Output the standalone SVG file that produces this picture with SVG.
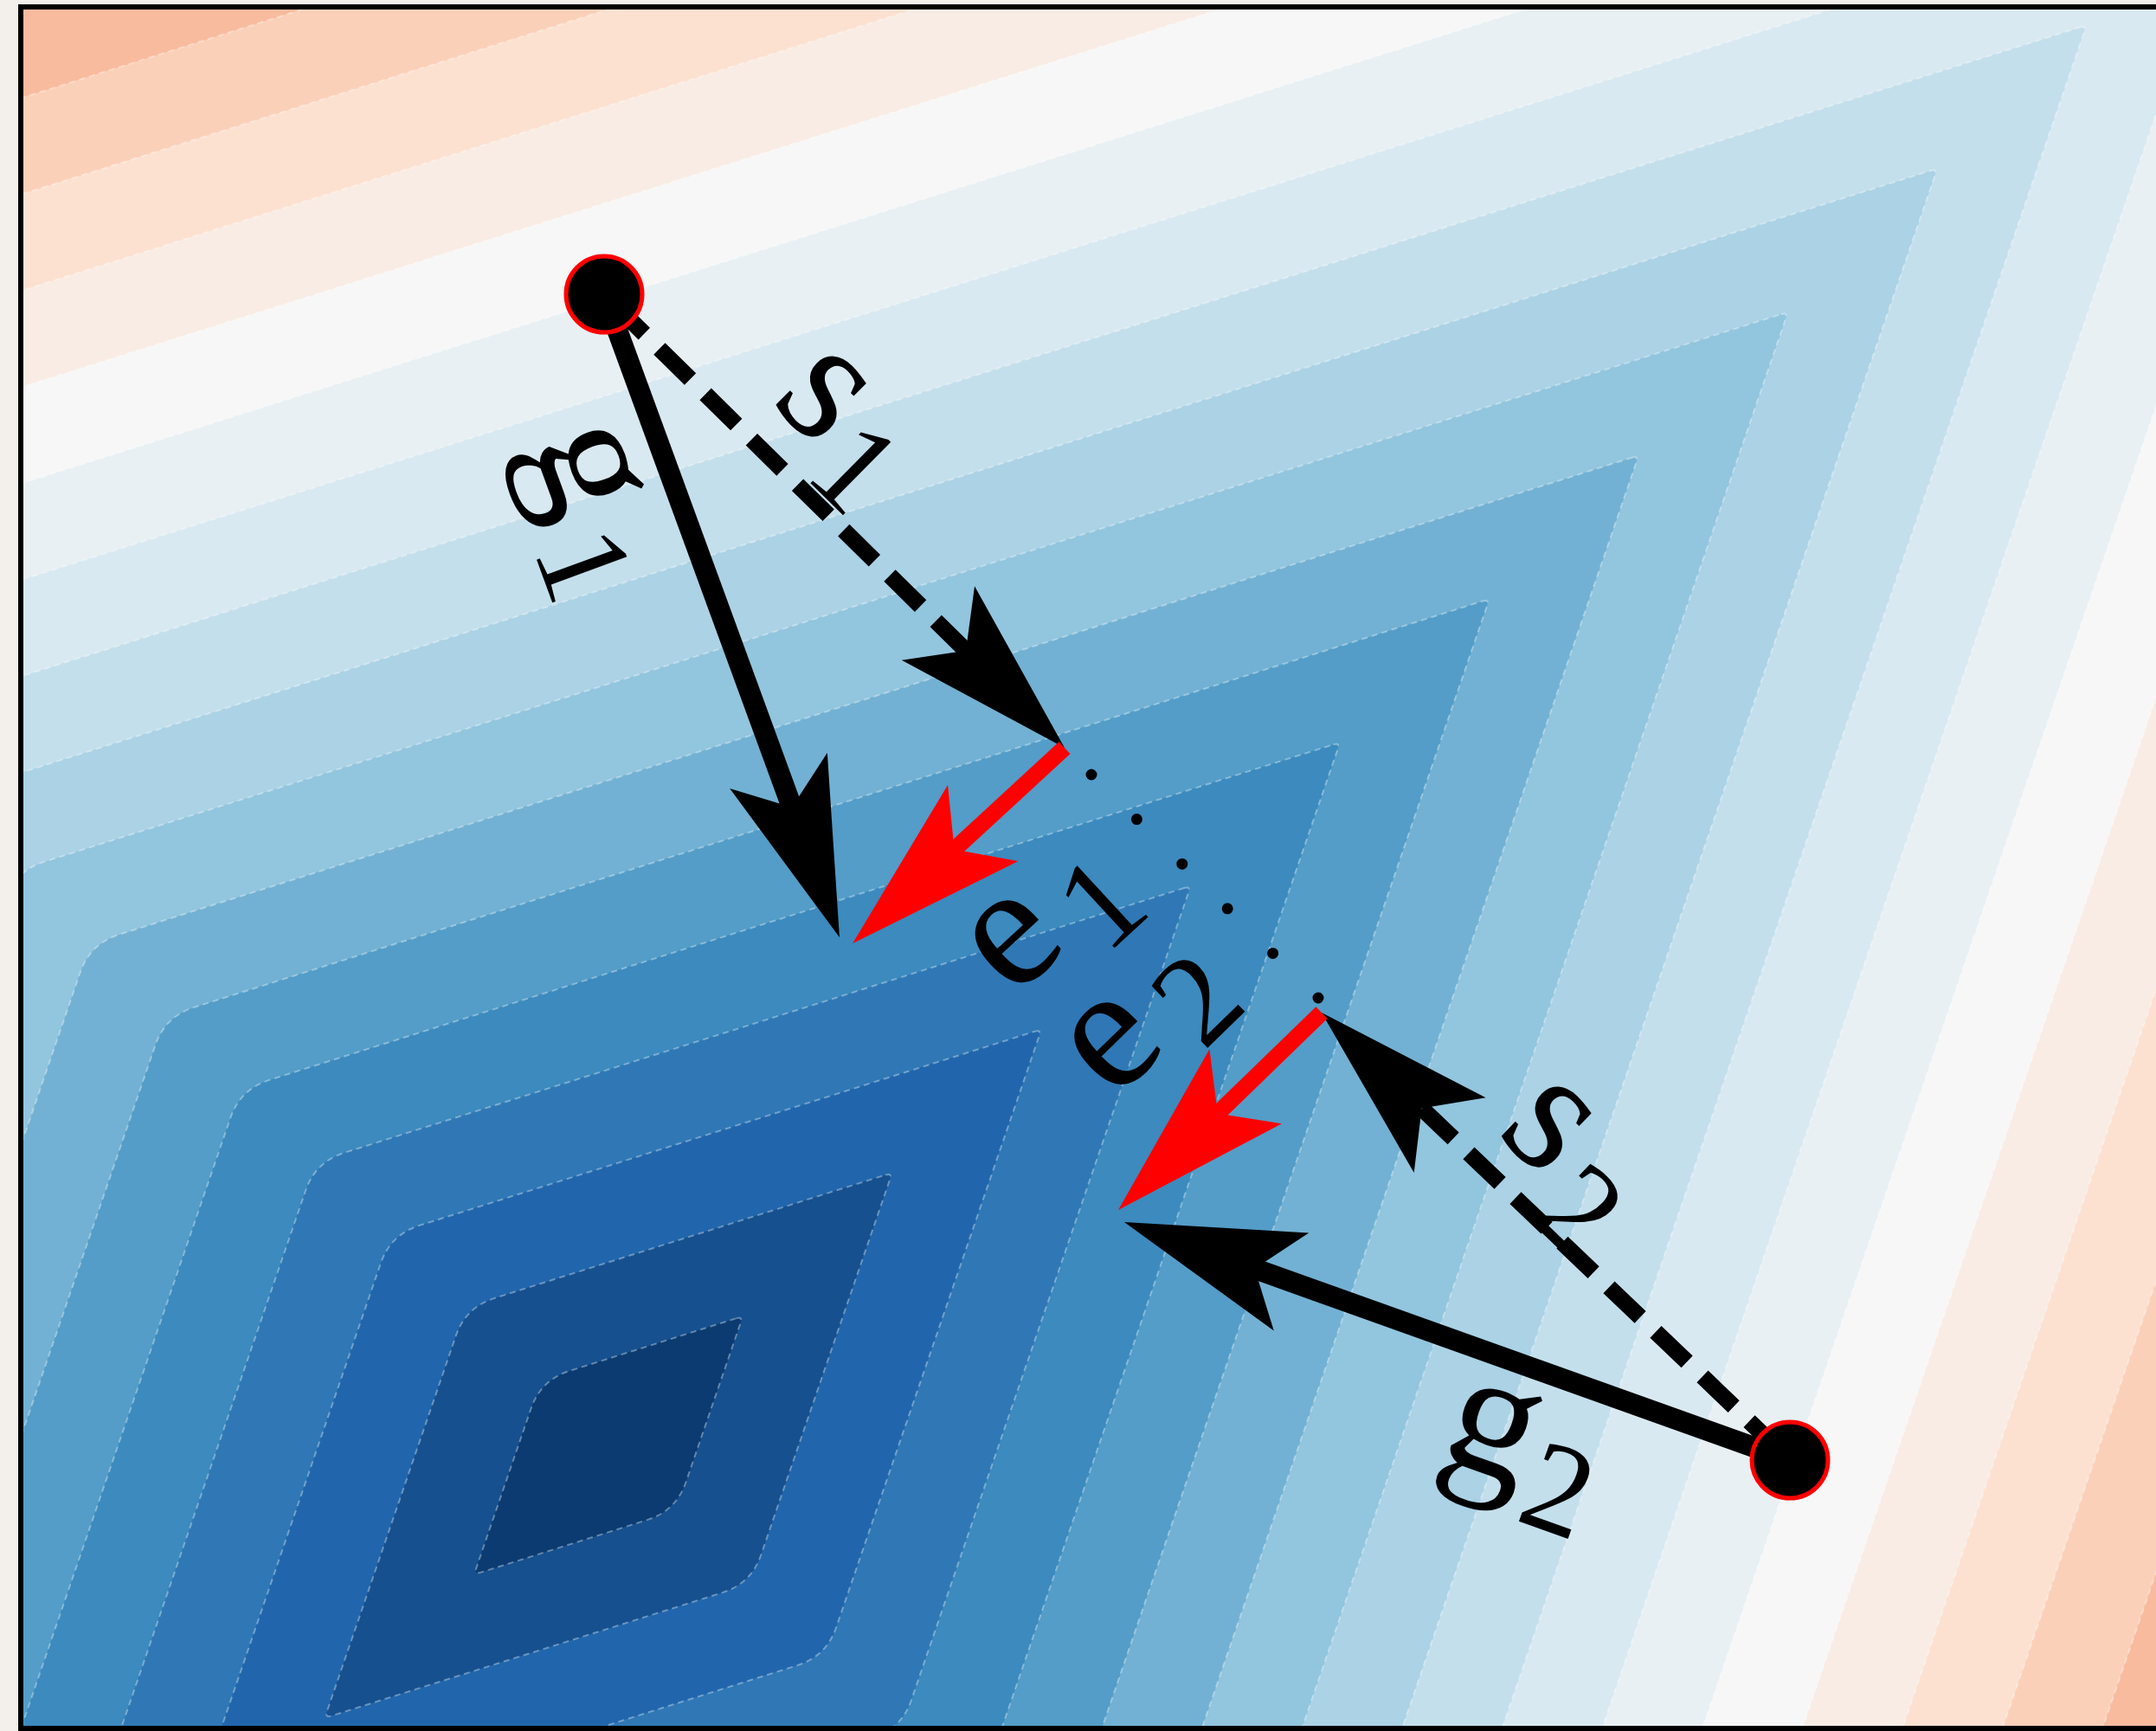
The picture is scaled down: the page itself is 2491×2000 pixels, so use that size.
<svg xmlns="http://www.w3.org/2000/svg" width="2491" height="2000" viewBox="0 0 2491 2000">
  <defs>
    <style>
      .lvl { stroke: #ffffff; stroke-opacity: 0.35; stroke-width: 2; stroke-dasharray: 7 5; }
      .solid { fill: none; stroke: #000; stroke-width: 24; }
      .dash { fill: none; stroke: #000; stroke-width: 19; stroke-dasharray: 50 24.7; stroke-dashoffset: -15; }
      .err { fill: none; stroke: #ff0000; stroke-width: 19; }
      .lbl { font-family: "Liberation Serif", "DejaVu Serif", serif; font-size: 205px; fill: #000; }
      .sub { font-size: 150px; }
      .pt { fill: #000; stroke: #ff0000; stroke-width: 5; }
    </style>
    <clipPath id="plotClip">
      <rect x="26" y="10" width="2470" height="1985"/>
    </clipPath>
    <marker id="headK" markerUnits="userSpaceOnUse" viewBox="-210 -65 220 130" refX="-150" refY="0" markerWidth="220" markerHeight="130" orient="auto" overflow="visible">
      <path d="M 0 0 L -205 -60 L -160 0 L -205 60 Z" fill="#000"/>
    </marker>
    <marker id="headR" markerUnits="userSpaceOnUse" viewBox="-210 -65 220 130" refX="-150" refY="0" markerWidth="220" markerHeight="130" orient="auto" overflow="visible">
      <path d="M 0 0 L -205 -60 L -160 0 L -205 60 Z" fill="#ff0000"/>
    </marker>
  </defs>

  <rect x="0" y="0" width="2491" height="2000" fill="#f3f0eb"/>

  <g id="contours" clip-path="url(#plotClip)">
    <rect x="0" y="0" width="2491" height="2000" fill="#f4a582"/>
    <path class="lvl" fill="#f8bb9e" d="M 3610.62 -1128.79 q 7.63 -2.41 5.03 5.16 L 2181.26 3056.5 q -11.36 33.1 -44.74 43.62 L -2204.62 4468.79 q -7.63 2.41 -5.03 -5.16 L -775.26 283.5 q 11.36 -33.1 44.74 -43.62 Z"/>
    <path class="lvl" fill="#fbd0b9" d="M 3438.12 -962.99 q 7.63 -2.41 5.03 5.16 L 2094.46 2972.5 q -11.36 33.1 -44.74 43.62 L -2032.12 4302.99 q -7.63 2.41 -5.03 -5.16 L -688.46 367.5 q 11.36 -33.1 44.74 -43.62 Z"/>
    <path class="lvl" fill="#fce1d1" d="M 3265.62 -797.29 q 7.63 -2.41 5.03 5.16 L 2007.66 2888.5 q -11.36 33.1 -44.74 43.62 L -1859.62 4137.29 q -7.63 2.41 -5.03 -5.16 L -601.66 451.5 q 11.36 -33.1 44.74 -43.62 Z"/>
    <path class="lvl" fill="#f9ece4" d="M 3093.12 -631.49 q 7.63 -2.41 5.03 5.16 L 1920.86 2804.5 q -11.36 33.1 -44.74 43.62 L -1687.12 3971.49 q -7.63 2.41 -5.03 -5.16 L -514.86 535.5 q 11.36 -33.1 44.74 -43.62 Z"/>
    <path class="lvl" fill="#f7f7f7" d="M 2920.62 -465.79 q 7.63 -2.41 5.03 5.16 L 1834.06 2720.5 q -11.36 33.1 -44.74 43.62 L -1514.62 3805.79 q -7.63 2.41 -5.03 -5.16 L -428.06 619.5 q 11.36 -33.1 44.74 -43.62 Z"/>
    <path class="lvl" fill="#e8f0f4" d="M 2748.12 -299.99 q 7.63 -2.41 5.03 5.16 L 1747.26 2636.5 q -11.36 33.1 -44.74 43.62 L -1342.12 3639.99 q -7.63 2.41 -5.03 -5.16 L -341.26 703.5 q 11.36 -33.1 44.74 -43.62 Z"/>
    <path class="lvl" fill="#d9e9f1" d="M 2575.62 -134.29 q 7.63 -2.41 5.03 5.16 L 1660.46 2552.5 q -11.36 33.1 -44.74 43.62 L -1169.62 3474.29 q -7.63 2.41 -5.03 -5.16 L -254.46 787.5 q 11.36 -33.1 44.74 -43.62 Z"/>
    <path class="lvl" fill="#c4dfec" d="M 2403.12 31.51 q 7.63 -2.41 5.03 5.16 L 1573.66 2468.5 q -11.36 33.1 -44.74 43.62 L -997.12 3308.49 q -7.63 2.41 -5.03 -5.16 L -167.66 871.5 q 11.36 -33.1 44.74 -43.62 Z"/>
    <path class="lvl" fill="#abd2e5" d="M 2230.62 197.21 q 7.63 -2.41 5.03 5.16 L 1486.86 2384.5 q -11.36 33.1 -44.74 43.62 L -824.62 3142.79 q -7.63 2.41 -5.03 -5.16 L -80.86 955.5 q 11.36 -33.1 44.74 -43.62 Z"/>
    <path class="lvl" fill="#92c5de" d="M 2058.12 363.01 q 7.63 -2.41 5.03 5.16 L 1400.06 2300.5 q -11.36 33.1 -44.74 43.62 L -652.12 2976.99 q -7.63 2.41 -5.03 -5.16 L 5.94 1039.5 q 11.36 -33.1 44.74 -43.62 Z"/>
    <path class="lvl" fill="#72b1d3" d="M 1885.62 528.71 q 7.63 -2.41 5.03 5.16 L 1313.26 2216.5 q -11.36 33.1 -44.74 43.62 L -479.62 2811.29 q -7.63 2.41 -5.03 -5.16 L 92.74 1123.5 q 11.36 -33.1 44.74 -43.62 Z"/>
    <path class="lvl" fill="#539dc8" d="M 1713.12 694.51 q 7.63 -2.41 5.03 5.16 L 1226.46 2132.5 q -11.36 33.1 -44.74 43.62 L -307.12 2645.49 q -7.63 2.41 -5.03 -5.16 L 179.54 1207.5 q 11.36 -33.1 44.74 -43.62 Z"/>
    <path class="lvl" fill="#3c8abe" d="M 1540.62 860.21 q 7.63 -2.41 5.03 5.16 L 1139.66 2048.5 q -11.36 33.1 -44.74 43.62 L -134.62 2479.79 q -7.63 2.41 -5.03 -5.16 L 266.34 1291.5 q 11.36 -33.1 44.74 -43.62 Z"/>
    <path class="lvl" fill="#2f78b5" d="M 1368.12 1026.01 q 7.63 -2.41 5.03 5.16 L 1052.86 1964.5 q -11.36 33.1 -44.74 43.62 L 37.88 2314.0 q -7.63 2.41 -5.03 -5.16 L 353.14 1375.5 q 11.36 -33.1 44.74 -43.62 Z"/>
    <path class="lvl" fill="#2166ac" d="M 1195.62 1191.71 q 7.63 -2.41 5.03 5.16 L 966.06 1880.5 q -11.36 33.1 -44.74 43.62 L 210.38 2148.29 q -7.63 2.41 -5.03 -5.16 L 439.94 1459.5 q 11.36 -33.1 44.74 -43.62 Z"/>
    <path class="lvl" fill="#16508e" d="M 1023.12 1357.51 q 7.63 -2.41 5.03 5.16 L 879.26 1796.5 q -11.36 33.1 -44.74 43.62 L 382.88 1982.49 q -7.63 2.41 -5.03 -5.16 L 526.74 1543.5 q 11.36 -33.1 44.74 -43.62 Z"/>
    <path class="lvl" fill="#0b3b70" d="M 850.62 1523.21 q 7.63 -2.41 5.03 5.16 L 792.46 1712.5 q -11.36 33.1 -44.74 43.62 L 555.38 1816.79 q -7.63 2.41 -5.03 -5.16 L 613.54 1627.5 q 11.36 -33.1 44.74 -43.62 Z"/>
  </g>

  <rect id="frame" x="24" y="8" width="2500" height="1989" fill="none" stroke="#000" stroke-width="6"/>

  <g id="connectors">
    <line id="g1-arrow" class="solid" x1="698" y1="340" x2="918.4" y2="942.1" marker-end="url(#headK)"/>
    <line id="s1-arrow" class="dash" x1="698" y1="340" x2="1123.1" y2="758.7" marker-end="url(#headK)"/>
    <line id="g2-arrow" class="solid" x1="2068" y1="1687" x2="1440.2" y2="1462.5" marker-end="url(#headK)"/>
    <line id="s2-arrow" class="dash" x1="2068" y1="1687" x2="1635.4" y2="1273.6" marker-end="url(#headK)"/>
    <path id="s1-s2-dots" d="M 1261 895 L 1523 1153" fill="none" stroke="#000" stroke-width="13" stroke-linecap="round" stroke-dasharray="0 73.54"/>
    <line id="e1-arrow" class="err" x1="1230" y1="864" x2="1095.3" y2="988.3" marker-end="url(#headR)"/>
    <line id="e2-arrow" class="err" x1="1527" y1="1170" x2="1399.7" y2="1293.5" marker-end="url(#headR)"/>
  </g>

  <g id="point-1"><circle class="pt" cx="698" cy="340" r="44"/></g>
  <g id="point-2"><circle class="pt" cx="2068" cy="1687" r="44"/></g>

  <g id="label-g1"><text class="lbl" transform="translate(655 550) rotate(69.9)" text-anchor="middle"><tspan x="0" y="25">g</tspan><tspan class="sub" x="103" y="66">1</tspan></text></g>
  <g id="label-s1"><text class="lbl" transform="translate(950 458) rotate(44.6)" text-anchor="middle"><tspan x="0" y="47">s</tspan><tspan class="sub" x="85" y="81">1</tspan></text></g>
  <g id="label-e1"><text class="lbl" transform="translate(1172 1089) rotate(-42.7)" text-anchor="middle"><tspan x="0" y="47">e</tspan><tspan class="sub" x="105" y="83">1</tspan></text></g>
  <g id="label-e2"><text class="lbl" transform="translate(1287 1207) rotate(-44.1)" text-anchor="middle"><tspan x="0" y="47">e</tspan><tspan class="sub" x="106" y="78">2</tspan></text></g>
  <g id="label-s2"><text class="lbl" transform="translate(1788 1302) rotate(43.7)" text-anchor="middle"><tspan x="0" y="47">s</tspan><tspan class="sub" x="93" y="93">2</tspan></text></g>
  <g id="label-g2"><text class="lbl" transform="translate(1716 1676) rotate(19.6)" text-anchor="middle"><tspan x="0" y="25">g</tspan><tspan class="sub" x="95" y="64">2</tspan></text></g>
</svg>
